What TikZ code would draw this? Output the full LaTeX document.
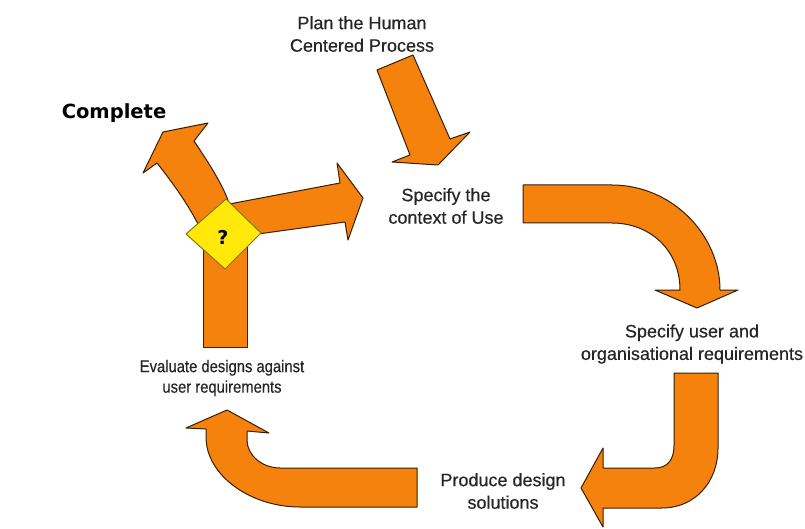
\documentclass[tikz,border=0pt]{standalone}
\usepackage{fontspec}
\setmainfont{Liberation Sans}[FakeBold=0.4]
\newfontfamily\narrowfont{Liberation Sans}[FakeStretch=0.87, FakeBold=0.4]
\newfontfamily\heavyfont{DejaVu Sans}
\definecolor{arrfill}{RGB}{246,130,14}
\definecolor{arrline}{RGB}{55,30,6}
\definecolor{dmfill}{RGB}{255,232,10}
\definecolor{dmline}{RGB}{130,120,20}
\definecolor{txt}{RGB}{38,38,38}
\tikzset{
  blockarrow/.style={fill=arrfill, draw=arrline, line width=1pt, line join=round},
  lbl/.style={text=txt, align=center, inner sep=0pt, font=\fontsize{18}{22.5}\selectfont},
  decision/.style={fill=dmfill, draw=dmline, line width=1pt, line join=round}
}
\begin{document}
\begin{tikzpicture}[x=1pt,y=-1pt]
\useasboundingbox (0,0) rectangle (805,529);
\fill[white] (0,0) rectangle (805,529);

% labels
\node[lbl] (plan) at (362,34) {Plan the Human\\Centered Process};
\node[lbl] (ctx) at (446,206) {Specify the\\context of Use};
\node[lbl] (req) at (692,344) {Specify user and\\organisational requirements};
\node[lbl] (prod) at (503,491) {Produce design\\solutions};
\node[lbl, font=\narrowfont\fontsize{17}{20.5}\selectfont] (eval) at (222,378) {Evaluate designs against\\user requirements};
\node[text=black, inner sep=0pt, font=\heavyfont\bfseries\fontsize{19.5}{21}\selectfont] (done) at (114,113) {Complete};

% arrow 1: plan -> context
\draw[blockarrow] (377,70) -- (413,55) -- (450,139) -- (470,132) -- (438,165) -- (392,162) -- (410,155) -- cycle;

% arrow 2: context -> requirements
\draw[blockarrow] (523,185) -- (612,185) .. controls (672,185) and (720,235) .. (720,290)
  -- (738,290) -- (697,308) -- (655,290) -- (680,290)
  .. controls (680,250) and (650,223) .. (612,223) -- (523,223) -- cycle;

% arrow 3: requirements -> produce
\draw[blockarrow] (674,373) -- (718,373) -- (718,448) .. controls (718,482) and (695,508) .. (662,508)
  -- (603,508) -- (603,527) -- (581,488) -- (603,448) -- (603,468) -- (655,468)
  .. controls (667,468) and (674,460) .. (674,446) -- cycle;

% arrow 4: produce -> evaluate
\draw[blockarrow] (417,468) -- (417,507) -- (300,507) .. controls (250,507) and (206,475) .. (206,437)
  -- (206,429) -- (186,428) -- (227,410) -- (269,433) -- (247,431) -- (247,440)
  .. controls (247,455) and (262,468) .. (280,468) -- cycle;

% vertical shaft from evaluate up to decision
\draw[blockarrow] (203,245) -- (203,347) -- (247,347) -- (247,245);
\fill[arrfill] (203,240) rectangle (247,250);

% arrow to Complete
\draw[blockarrow] (212,238) -- (199,226) .. controls (188,204) and (172,182) .. (157,163)
  -- (143,173) -- (163,132) -- (208,123) -- (194,141)
  .. controls (208,162) and (220,180) .. (228,200) -- (226,238) -- cycle;

% arrow back to context
\draw[blockarrow] (224,205) -- (340,183) -- (337,163) -- (363,198) -- (348,240) -- (345,222) -- (258,234) -- (232,236) -- cycle;

% decision diamond
\draw[decision] (186,234) -- (226,199) -- (261,233) -- (225,269) -- cycle;
\node[text=black, inner sep=0pt, font=\heavyfont\bfseries\fontsize{19}{20}\selectfont] (dec) at (223,237) {?};
\end{tikzpicture}
\end{document}
